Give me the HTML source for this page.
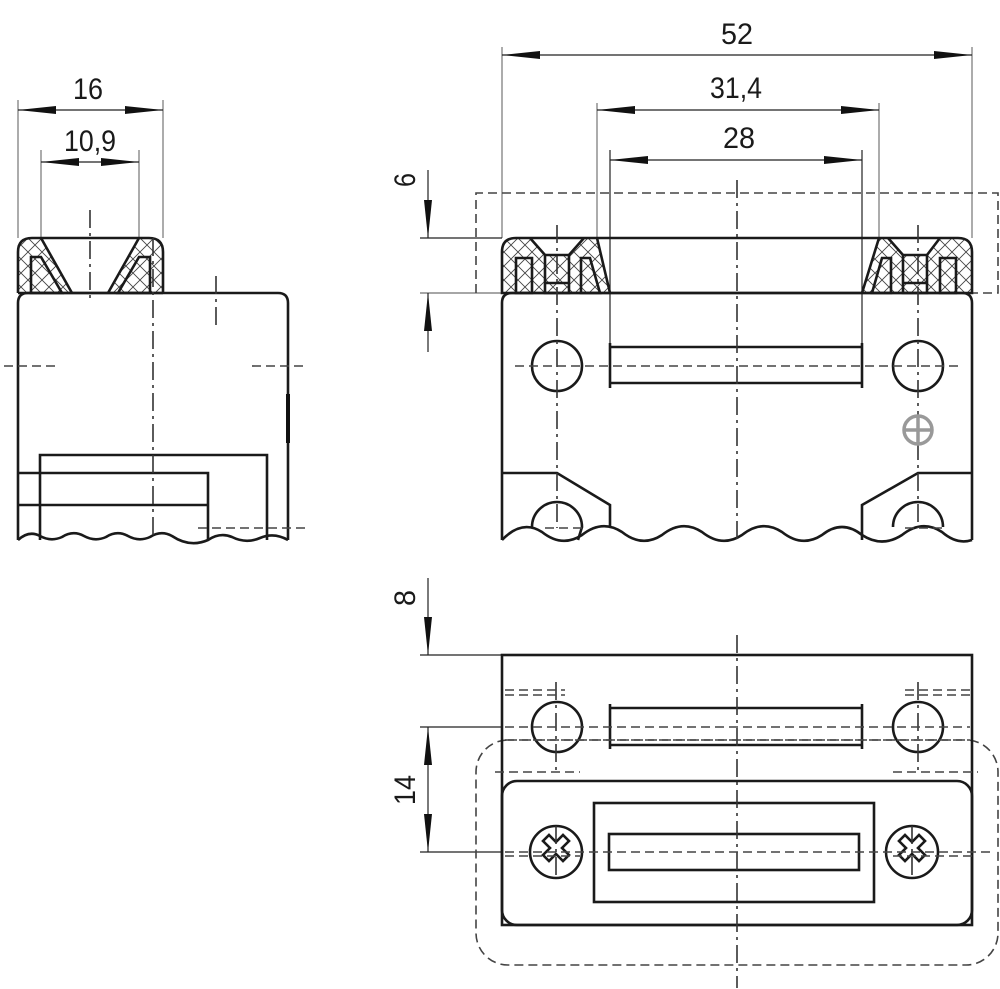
<!DOCTYPE html>
<html><head><meta charset="utf-8"><style>html,body{margin:0;padding:0;background:#fff}svg{display:block}</style></head><body>
<svg width="1000" height="989" viewBox="0 0 1000 989" xmlns="http://www.w3.org/2000/svg">
<defs>
<marker id="a" viewBox="0 0 38 8" refX="38" refY="4" markerWidth="38" markerHeight="8" markerUnits="userSpaceOnUse" orient="auto-start-reverse"><path d="M0,0 L38,4 L0,8 z" fill="#111"/></marker>
<pattern id="h" width="14" height="14" patternUnits="userSpaceOnUse"><path d="M0,0 L14,14 M14,0 L0,14" stroke="#444" stroke-width="0.9"/></pattern>
</defs>
<style>
.t{stroke:#1a1a1a;stroke-width:2.6;fill:none}
.n{stroke:#222;stroke-width:1.2;fill:none}
.g{stroke:#888;stroke-width:1.4;fill:none}
.c{stroke:#333;stroke-width:1.6;fill:none;stroke-dasharray:18 5 3 5}
.d{stroke:#444;stroke-width:1.6;fill:none;stroke-dasharray:9 5}
text{font-family:"Liberation Sans",sans-serif;font-size:30px;fill:#1a1a1a;text-anchor:middle}
</style>

<!-- ===== LEFT VIEW ===== -->
<line class="g" x1="18" y1="100" x2="18" y2="238"/>
<line class="g" x1="163" y1="100" x2="163" y2="238"/>
<line class="g" x1="41" y1="150" x2="41" y2="238"/>
<line class="g" x1="139" y1="150" x2="139" y2="238"/>
<line class="n" x1="18" y1="110" x2="163" y2="110" marker-start="url(#a)" marker-end="url(#a)"/>
<line class="n" x1="41" y1="162" x2="139" y2="162" marker-start="url(#a)" marker-end="url(#a)"/>
<text x="88" y="99" textLength="30" lengthAdjust="spacingAndGlyphs">16</text>
<text x="90" y="151" textLength="52" lengthAdjust="spacingAndGlyphs">10,9</text>

<!-- cap -->
<path d="M18,293 L18,250 Q18,238 30,238 L151,238 Q163,238 163,250 L163,293 Z" fill="url(#h)" stroke="none"/>
<path d="M41,238 L139,238 L108,293 L72,293 Z" fill="#fff"/>
<path d="M31,293 L31,257 L41,257 L62,293 Z M150,293 L150,257 L139,257 L118,293 Z" fill="#fff" class="t"/>
<path class="t" d="M41,238 L72,293 M139,238 L108,293"/>
<path class="t" d="M18,293 L18,252 Q18,238 32,238 L149,238 Q163,238 163,252 L163,293"/>
<!-- body -->
<path class="t" d="M18,540 L18,303 Q18,293 28,293 L278,293 Q288,293 288,303 L288,540"/>
<line class="t" x1="18" y1="293" x2="163" y2="293"/>
<line x1="288" y1="394" x2="288" y2="443" stroke="#111" stroke-width="4"/>
<path class="t" d="M40,540 L40,455 L267,455 L267,540"/>
<path class="t" d="M18,473 L208,473 L208,540 M18,505 L208,505"/>
<path class="t" d="M18,540 Q29,530 40,536 Q51,542 62,537 Q73,530 84,536 Q95,542 106,537 Q117,530 128,536 Q139,542 150,537 Q161,530 172,536 Q190,548 208,540 Q220,532 232,537 Q246,544 260,538 Q274,532 288,540"/>
<line class="c" x1="90" y1="210" x2="90" y2="303"/>
<line class="c" x1="153" y1="238" x2="153" y2="540"/>
<line class="c" x1="216" y1="276" x2="216" y2="330"/>
<line class="d" x1="4" y1="366" x2="58" y2="366"/>
<line class="d" x1="252" y1="366" x2="308" y2="366"/>
<line class="d" x1="198" y1="528" x2="308" y2="528"/>

<!-- ===== MIDDLE VIEW ===== -->
<line class="g" x1="502" y1="47" x2="502" y2="238"/>
<line class="g" x1="972" y1="47" x2="972" y2="238"/>
<line class="g" x1="597" y1="103" x2="597" y2="238"/>
<line class="g" x1="879" y1="103" x2="879" y2="238"/>
<line class="n" x1="610" y1="150" x2="610" y2="347"/>
<line class="n" x1="862" y1="150" x2="862" y2="347"/>
<line class="n" x1="502" y1="55" x2="972" y2="55" marker-start="url(#a)" marker-end="url(#a)"/>
<line class="n" x1="597" y1="110" x2="879" y2="110" marker-start="url(#a)" marker-end="url(#a)"/>
<line class="n" x1="610" y1="160" x2="862" y2="160" marker-start="url(#a)" marker-end="url(#a)"/>
<text x="737" y="44" textLength="32" lengthAdjust="spacingAndGlyphs">52</text>
<text x="736" y="98" textLength="52" lengthAdjust="spacingAndGlyphs">31,4</text>
<text x="739" y="148" textLength="32" lengthAdjust="spacingAndGlyphs">28</text>
<!-- 6 -->
<line class="n" x1="420" y1="238" x2="502" y2="238"/>
<line class="g" x1="420" y1="293" x2="502" y2="293"/>
<line class="n" x1="428" y1="170" x2="428" y2="238" marker-end="url(#a)"/>
<line class="n" x1="428" y1="352" x2="428" y2="293" marker-end="url(#a)"/>
<text transform="translate(415,180) rotate(-90)" textLength="14" lengthAdjust="spacingAndGlyphs">6</text>
<path class="d" d="M476,293 L476,193 L998,193 L998,293 L960,293"/>
<!-- caps -->
<path d="M502,293 L502,252 Q502,238 516,238 L597,238 L610,293 Z" fill="url(#h)"/>
<path d="M972,293 L972,252 Q972,238 958,238 L879,238 L862,293 Z" fill="url(#h)"/>
<path d="M530,238 L584,238 L569,255 L545,255 Z M940,238 L888,238 L903,255 L927,255 Z" fill="#fff"/>
<path d="M516,293 L516,258 L532,258 L532,293 Z M545,293 L545,255 L569,255 L569,293 Z M581,293 L581,258 L590,258 L600,293 Z" fill="#fff" class="t"/>
<path d="M956,293 L956,258 L940,258 L940,293 Z M927,293 L927,255 L903,255 L903,293 Z M891,293 L891,258 L882,258 L872,293 Z" fill="#fff" class="t"/>
<path class="t" d="M530,238 L545,255 M584,238 L569,255 M940,238 L927,255 M888,238 L903,255 M545,283 L569,283 M903,283 L927,283"/>
<path class="t" d="M502,293 L502,252 Q502,238 516,238 L958,238 Q972,238 972,252 L972,293 Z"/>
<path class="t" d="M597,238 L610,293 M879,238 L862,293"/>
<!-- body -->
<path class="t" d="M502,540 L502,303 Q502,293 512,293 L962,293 Q972,293 972,303 L972,540"/>
<circle class="t" cx="557" cy="366" r="25"/>
<circle class="t" cx="918" cy="366" r="25"/>
<path class="t" d="M610,347 L862,347 M610,383 L862,383 M610,343 L610,388 M862,343 L862,388"/>
<path class="t" d="M502,473 L557,473 L610,505 L610,527 M972,473 L918,473 L862,505 L862,540"/>
<path class="t" d="M532,527 A25,25 0 0 1 582,527 L578,540"/>
<path class="t" d="M893,527 A25,25 0 0 1 943,527"/>
<path class="t" d="M502,540 Q522,519 542,532 Q562,548 582,535 Q602,519 622,532 Q642,548 662,535 Q682,519 702,532 Q722,548 742,535 Q762,519 782,532 Q802,548 822,535 Q842,519 862,535 Q882,548 902,535 Q922,519 942,532 Q957,545 972,540"/>
<line class="c" x1="737" y1="180" x2="737" y2="540"/>
<line class="c" x1="557" y1="225" x2="557" y2="528"/>
<line class="c" x1="918" y1="225" x2="918" y2="528"/>
<line class="d" x1="515" y1="366" x2="960" y2="366"/>
<line class="d" x1="545" y1="528" x2="585" y2="528"/>
<line class="d" x1="905" y1="528" x2="945" y2="528"/>
<g stroke="#999" stroke-width="3.5" fill="none"><circle cx="918" cy="430" r="14"/><line x1="904" y1="430" x2="932" y2="430"/><line x1="918" y1="416" x2="918" y2="444"/></g>

<!-- ===== BOTTOM VIEW ===== -->
<line class="n" x1="420" y1="655" x2="502" y2="655"/>
<line class="n" x1="420" y1="727" x2="502" y2="727"/>
<line class="n" x1="420" y1="852" x2="502" y2="852"/>
<line class="n" x1="428" y1="578" x2="428" y2="655" marker-end="url(#a)"/>
<line class="n" x1="428" y1="852" x2="428" y2="727" marker-start="url(#a)" marker-end="url(#a)"/>
<text transform="translate(415,598) rotate(-90)" textLength="16" lengthAdjust="spacingAndGlyphs">8</text>
<text transform="translate(415,790) rotate(-90)" textLength="30" lengthAdjust="spacingAndGlyphs">14</text>
<rect class="d" x="476" y="740" width="522" height="225" rx="32"/>
<rect class="t" x="502" y="655" width="470" height="270" fill="#fff"/>
<rect class="t" x="502" y="781" width="470" height="144" rx="15"/>
<rect class="t" x="594" y="803" width="280" height="99"/>
<rect class="t" x="609" y="834" width="250" height="36"/>
<circle class="t" cx="557" cy="727" r="25"/>
<circle class="t" cx="918" cy="727" r="25"/>
<path class="t" d="M610,708 L862,708 M610,745 L862,745 M610,704 L610,749 M862,704 L862,749"/>
<circle class="t" cx="556" cy="852" r="26"/>
<circle class="t" cx="912" cy="852" r="26"/>
<path class="t" stroke-width="2.2" d="M556,842 l7,-7 l6,6 l-7,7 l7,7 l-6,6 l-7,-7 l-7,7 l-6,-6 l7,-7 l-7,-7 l6,-6 z"/>
<path class="t" stroke-width="2.2" d="M912,842 l7,-7 l6,6 l-7,7 l7,7 l-6,6 l-7,-7 l-7,7 l-6,-6 l7,-7 l-7,-7 l6,-6 z"/>
<line class="c" x1="737" y1="635" x2="737" y2="988"/>
<line class="c" x1="556" y1="682" x2="556" y2="772"/>
<line class="c" x1="918" y1="682" x2="918" y2="772"/>
<line class="c" x1="556" y1="826" x2="556" y2="880"/>
<line class="c" x1="912" y1="826" x2="912" y2="880"/>
<line class="d" x1="505" y1="690" x2="565" y2="690"/>
<line class="d" x1="505" y1="695" x2="565" y2="695"/>
<line class="d" x1="905" y1="690" x2="972" y2="690"/>
<line class="d" x1="905" y1="695" x2="972" y2="695"/>
<line class="d" x1="505" y1="727" x2="970" y2="727"/>
<line class="d" x1="505" y1="740" x2="970" y2="740"/>
<line class="d" x1="495" y1="772" x2="580" y2="772"/>
<line class="d" x1="893" y1="772" x2="978" y2="772"/>
<line class="d" x1="505" y1="852" x2="990" y2="852"/>
<line class="d" x1="505" y1="856" x2="580" y2="856"/>
<line class="d" x1="893" y1="856" x2="972" y2="856"/>
</svg>
</body></html>
